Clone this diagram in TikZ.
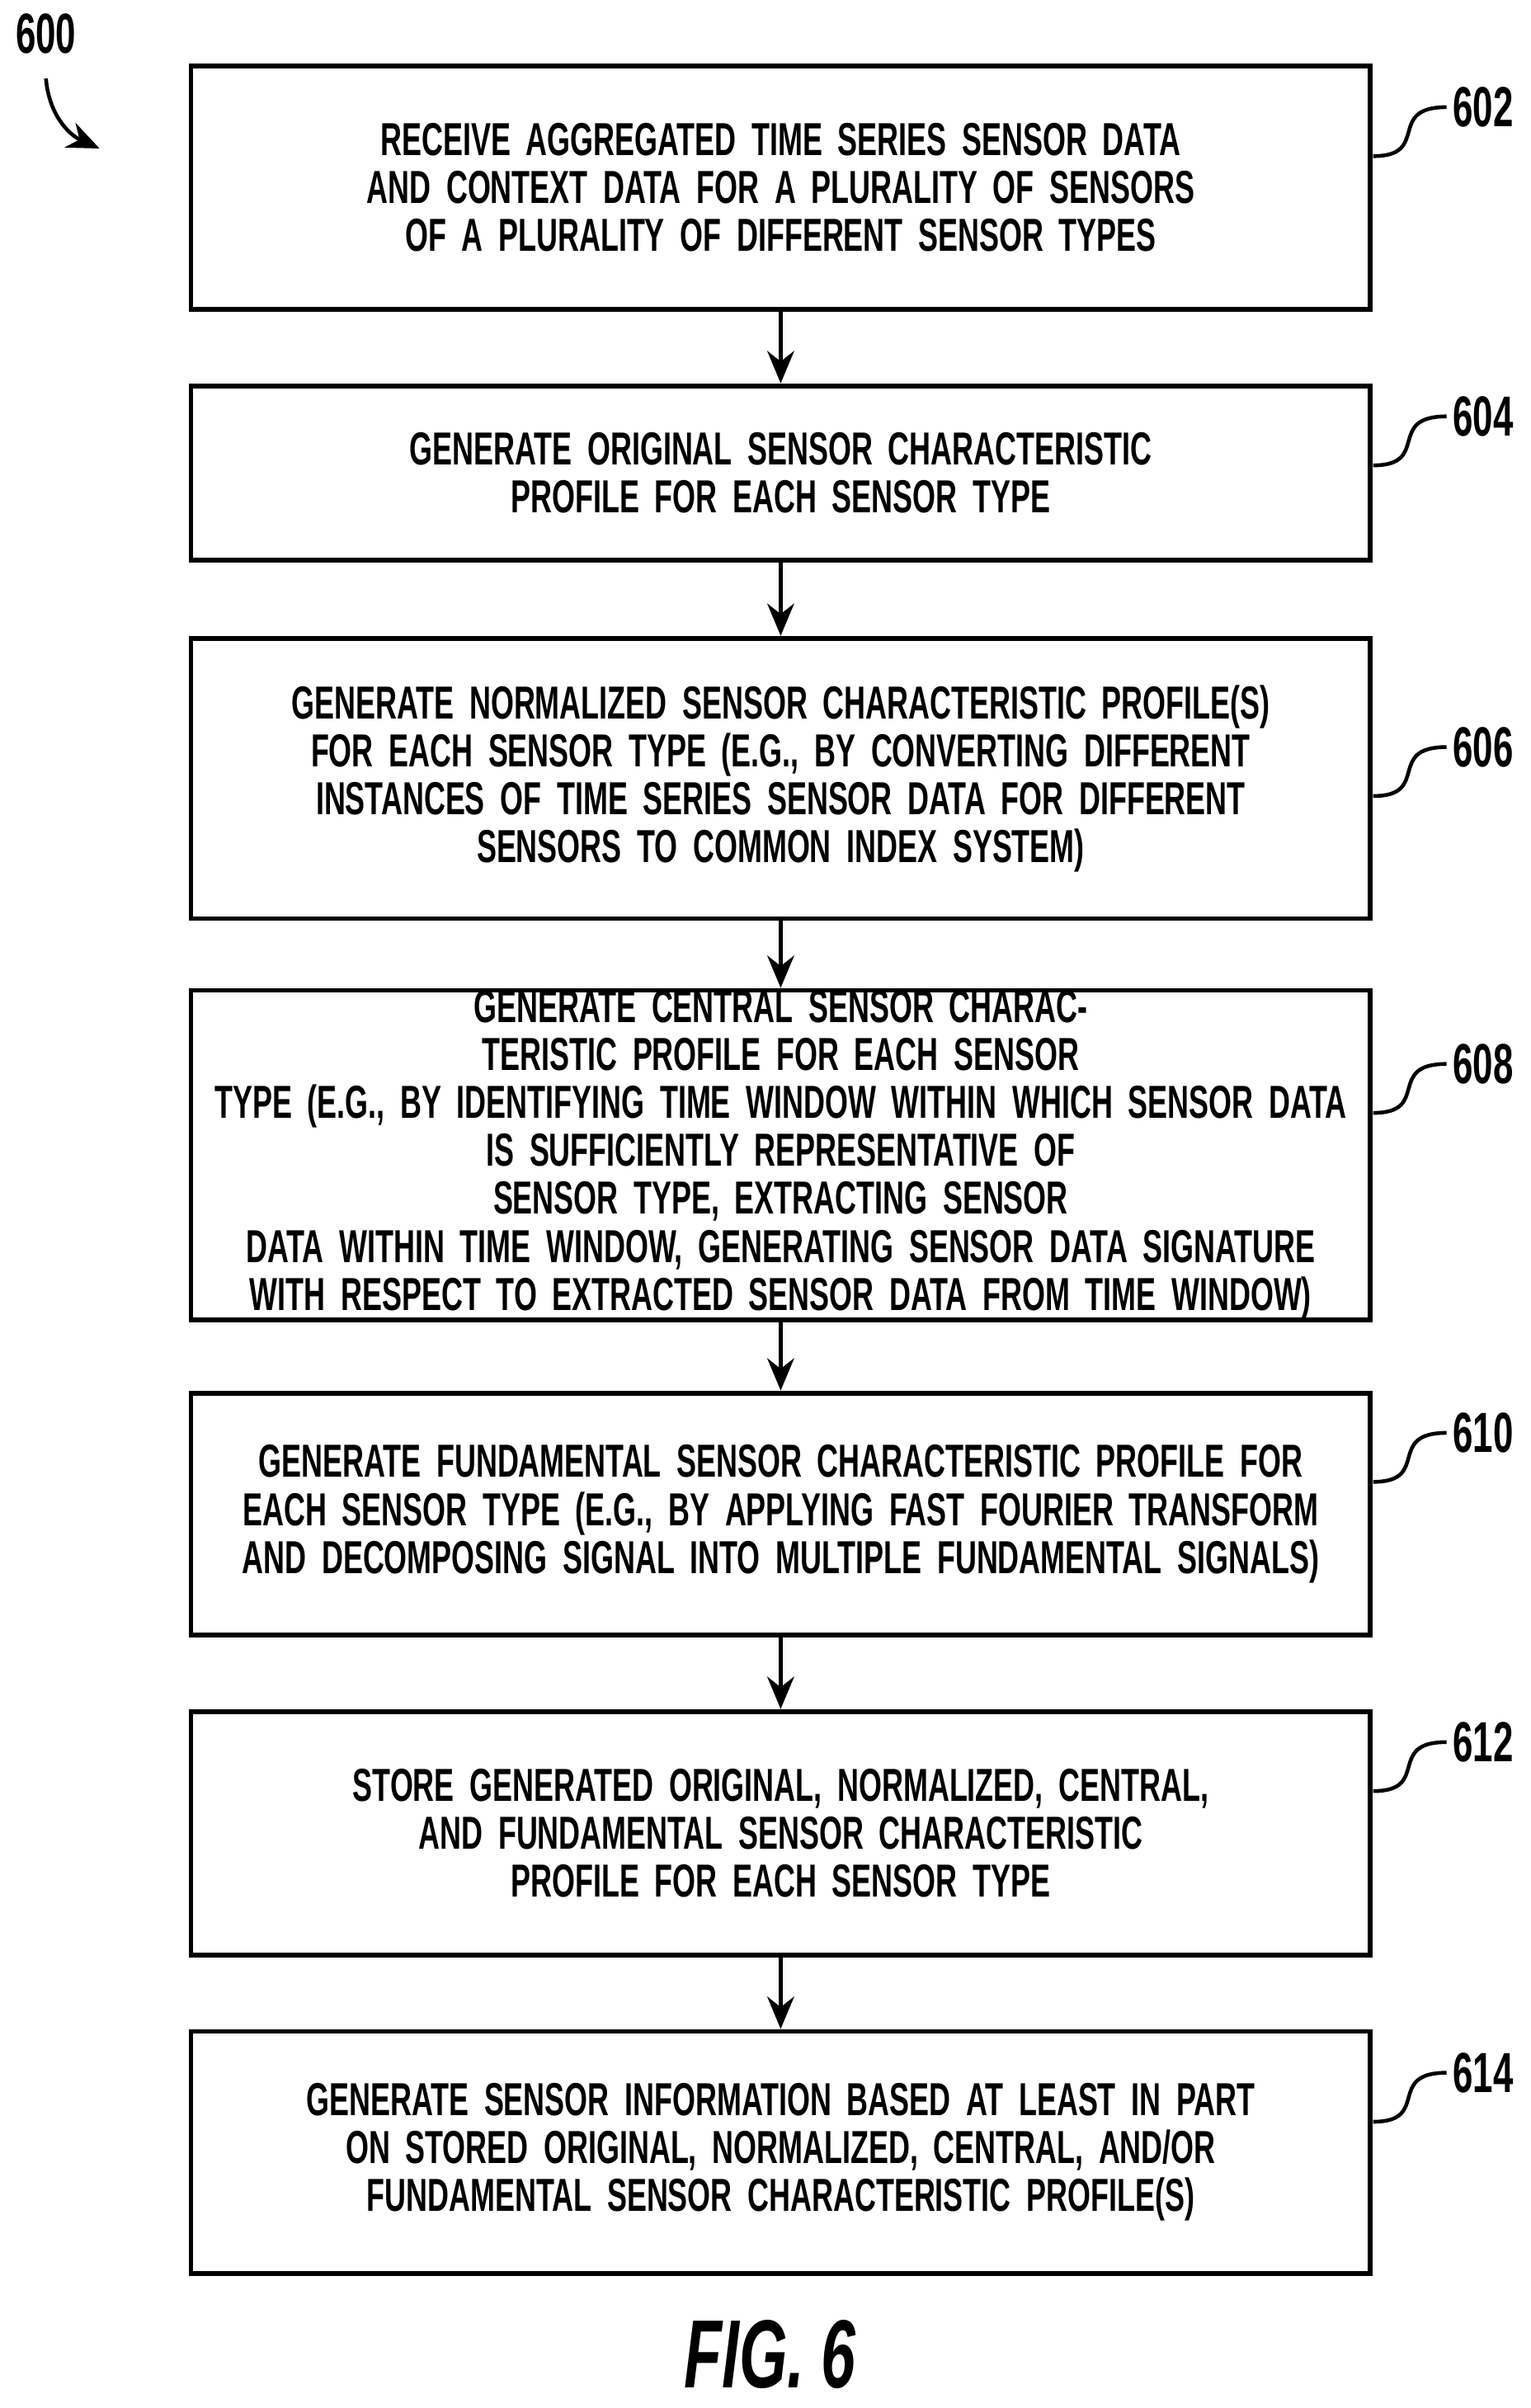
\documentclass[tikz,border=0pt]{standalone}
\usepackage{fontspec}
\setmainfont{Liberation Sans}[FakeStretch=0.64]
\usetikzlibrary{arrows.meta}
\begin{document}
\begin{tikzpicture}[x=0.01cm, y=-0.01cm, font=\bfseries\fontsize{8.6pt}{8.9pt}\selectfont,
    stepbox/.style={draw, line width=0.9pt, text width=7.5cm, minimum width=7.7cm, align=center, inner sep=0pt},
    flow/.style={-{Stealth[length=6pt,width=5pt]}, line width=0.7pt},
    ref/.style={anchor=west, inner sep=1pt, font=\bfseries\fontsize{10.5pt}{12pt}\selectfont}]
  \useasboundingbox (0,0) rectangle (1000,1573);

  %% steps
  \node[stepbox, minimum height=1.59cm] (s602) at (510,122.5)
    {RECEIVE AGGREGATED TIME SERIES SENSOR DATA\\AND CONTEXT DATA FOR A PLURALITY OF SENSORS\\OF A PLURALITY OF DIFFERENT SENSOR TYPES};
  \node[stepbox, minimum height=1.14cm] (s604) at (510,309)
    {GENERATE ORIGINAL SENSOR CHARACTERISTIC\\PROFILE FOR EACH SENSOR TYPE};
  \node[stepbox, minimum height=1.83cm] (s606) at (510,508.5)
    {GENERATE NORMALIZED SENSOR CHARACTERISTIC PROFILE(S)\\FOR EACH SENSOR TYPE (E.G., BY CONVERTING DIFFERENT\\INSTANCES OF TIME SERIES SENSOR DATA FOR DIFFERENT\\SENSORS TO COMMON INDEX SYSTEM)};
  \node[stepbox, minimum height=2.07cm] (s608) at (510,754.5)
    {GENERATE CENTRAL SENSOR CHARACTERISTIC PROFILE FOR EACH SENSOR\\TYPE (E.G., BY IDENTIFYING TIME WINDOW WITHIN WHICH SENSOR DATA\\IS SUFFICIENTLY REPRESENTATIVE OF SENSOR TYPE, EXTRACTING SENSOR\\DATA WITHIN TIME WINDOW, GENERATING SENSOR DATA SIGNATURE\\WITH RESPECT TO EXTRACTED SENSOR DATA FROM TIME WINDOW)};
  \node[stepbox, minimum height=1.58cm] (s610) at (510,989)
    {GENERATE FUNDAMENTAL SENSOR CHARACTERISTIC PROFILE FOR\\EACH SENSOR TYPE (E.G., BY APPLYING FAST FOURIER TRANSFORM\\AND DECOMPOSING SIGNAL INTO MULTIPLE FUNDAMENTAL SIGNALS)};
  \node[stepbox, minimum height=1.59cm] (s612) at (510,1197.5)
    {STORE GENERATED ORIGINAL, NORMALIZED, CENTRAL,\\AND FUNDAMENTAL SENSOR CHARACTERISTIC\\PROFILE FOR EACH SENSOR TYPE};
  \node[stepbox, minimum height=1.58cm] (s614) at (510,1406)
    {GENERATE SENSOR INFORMATION BASED AT LEAST IN PART\\ON STORED ORIGINAL, NORMALIZED, CENTRAL, AND/OR\\FUNDAMENTAL SENSOR CHARACTERISTIC PROFILE(S)};

  %% arrows
  \foreach \a/\b in {602/604,604/606,606/608,608/610,610/612,612/614} {
    \draw[flow] (s\a.south) -- (s\b.north); }

  %% reference numerals
  \foreach \n/\y in {602/70,604/272,606/488,608/695,610/936,612/1138,614/1354} {
    \node[ref] (r\n) at (945,\y) {\n};
    \coordinate (c\n) at (897,\y+32);
    \draw[line width=0.7pt] (c\n) .. controls (935,\y+32) and (905,\y) .. (r\n.west); }

  %% figure number
  \node[ref, anchor=center] (r600) at (30,22) {600};
  \coordinate (c600) at (65,97);
  \draw[-{Stealth[length=6pt,width=5pt]}, line width=0.7pt] (r600.south) ++(0,12) .. controls (32,75) and (45,88) .. (c600);
  \node[font=\bfseries\itshape\fontsize{18pt}{20pt}\selectfont] (fig) at (503,1538) {FIG.\,6};
\end{tikzpicture}
\end{document}
